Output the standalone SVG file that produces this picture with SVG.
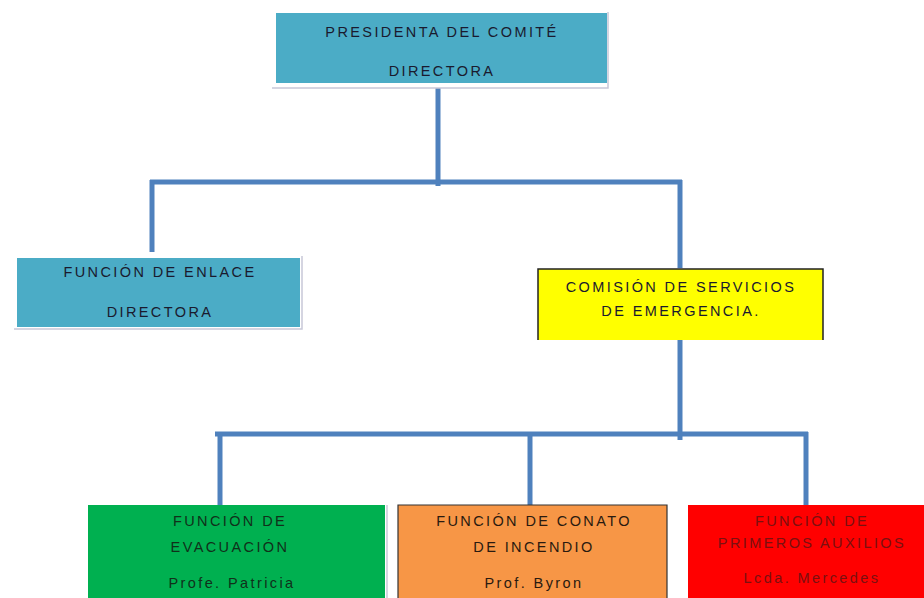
<svg xmlns="http://www.w3.org/2000/svg" width="924" height="598" viewBox="0 0 924 598">
<style>
.t{font-family:"Liberation Sans",Arial,sans-serif;font-size:14.5px;text-anchor:middle;fill:#1a1a2e;letter-spacing:2.4px}
.c{stroke:#4F81BD;stroke-width:5;fill:none}
.sh{fill:none;stroke:#c8c8d8;stroke-width:1.5}
</style>
<rect width="924" height="598" fill="#ffffff"/>
<g id="connectors">
<path class="c" d="M438 88V186"/>
<path class="c" d="M150 182H682"/>
<path class="c" d="M152 180V252"/>
<path class="c" d="M680 180V268"/>
<path class="c" d="M680 340V440"/>
<path class="c" d="M215 434H808"/>
<path class="c" d="M220 432V505"/>
<path class="c" d="M530 432V505"/>
<path class="c" d="M806 432V505"/>
</g>
<g id="presidenta">
<path class="sh" d="M608 12V88H272"/>
<rect x="276" y="13" width="331" height="70" fill="#4BACC6"/>
<text class="t" x="442" y="37">PRESIDENTA DEL COMITÉ</text>
<text class="t" x="442" y="76">DIRECTORA</text>
</g>
<g id="enlace">
<path class="sh" d="M302 256V329H14"/>
<rect x="17" y="258" width="283" height="69" fill="#4BACC6"/>
<text class="t" x="160" y="277">FUNCIÓN DE ENLACE</text>
<text class="t" x="160" y="317">DIRECTORA</text>
</g>
<g id="comision">
<rect x="538" y="269" width="285" height="71" fill="#FFFF00"/>
<path d="M538 340V269H823V340" fill="none" stroke="#222" stroke-width="1.5"/>
<text class="t" x="681" y="292">COMISIÓN DE SERVICIOS</text>
<text class="t" x="681" y="316">DE EMERGENCIA.</text>
</g>
<g id="evacuacion">
<path class="sh" d="M387 505V598"/>
<rect x="88" y="505" width="297" height="93" fill="#00B050"/>
<text class="t" x="230" y="526" style="fill:#10301a">FUNCIÓN DE</text>
<text class="t" x="230" y="552" style="fill:#10301a">EVACUACIÓN</text>
<text class="t" x="232" y="588" style="fill:#10301a">Profe. Patricia</text>
</g>
<g id="conato">
<rect x="398" y="505" width="269" height="93" fill="#F79646"/>
<path d="M398 598V505H667V598" fill="none" stroke="#333" stroke-width="1.2"/>
<text class="t" x="534" y="526" style="fill:#2a1a10">FUNCIÓN DE CONATO</text>
<text class="t" x="534" y="552" style="fill:#2a1a10">DE INCENDIO</text>
<text class="t" x="534" y="588" style="fill:#2a1a10">Prof. Byron</text>
</g>
<g id="auxilios">
<rect x="688" y="505" width="236" height="93" fill="#FF0000"/>
<text class="t" x="812" y="526" style="fill:#7a1010">FUNCIÓN DE</text>
<text class="t" x="812" y="548" style="fill:#7a1010">PRIMEROS AUXILIOS</text>
<text class="t" x="812" y="583" style="fill:#7a1010">Lcda. Mercedes</text>
</g>
</svg>
